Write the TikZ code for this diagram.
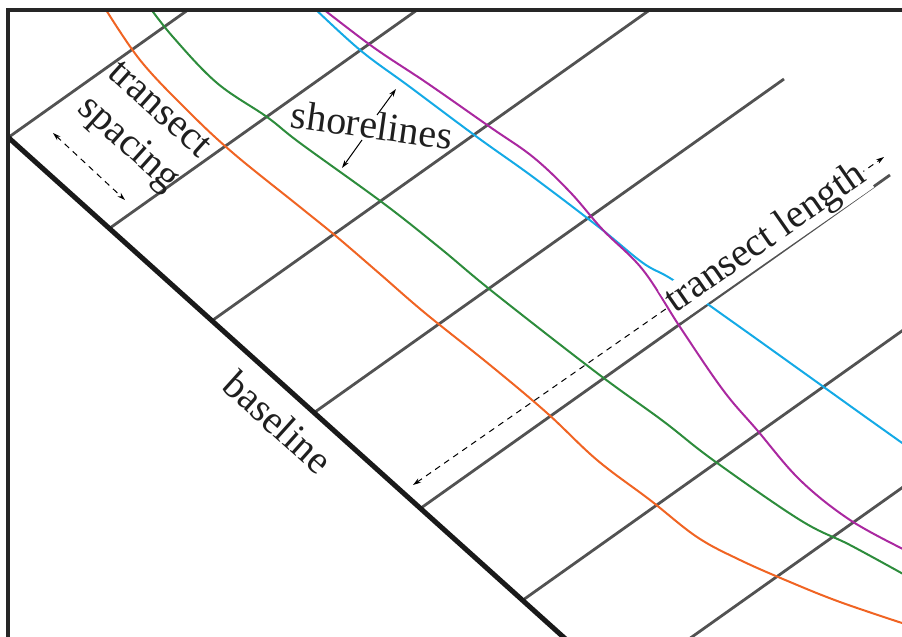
\documentclass[tikz,border=0pt]{standalone}
\usepackage{fontspec}
\setmainfont{Liberation Serif}
\usetikzlibrary{arrows.meta}

\definecolor{shoreO}{RGB}{240,100,35}
\definecolor{shoreG}{RGB}{45,140,60}
\definecolor{shoreB}{RGB}{20,170,230}
\definecolor{shoreM}{RGB}{170,40,160}

\begin{document}
\begin{tikzpicture}[x=1pt, y=-1pt,
  transect/.style={line width=2.8pt, draw=black!68},
  shoreline/.style={line width=2pt, smooth, tension=0.6},
  note/.style={font=\fontsize{40}{46}\selectfont, text=black!88, inner sep=1pt},
  measure/.style={line width=1pt, dash pattern=on 6pt off 5pt,
    {Stealth[length=8pt,width=5pt]}-{Stealth[length=8pt,width=5pt]}},
  pointer/.style={line width=1pt, -{Stealth[length=8pt,width=5pt]}}]
  \useasboundingbox (0,0) rectangle (902,637);

  \begin{scope}
    \clip (8,10) rectangle (902,637);
    % Transects
    \foreach \x/\y in {9/137, 110/228, 213/320, 315/412, 421/508, 523/600, 620/688}
      \draw[transect] (\x,\y) -- ++(469,-333);

    % Shorelines
    \draw[shoreline, draw=shoreO] plot coordinates {(103,5) (140,60) (187,110) (233,153)
      (300,207) (337,237) (380,274) (425,313) (490,365) (547,413) (597,460)
      (650,500) (697,537) (740,560) (790,582) (840,602) (905,624)};
    \draw[shoreline, draw=shoreG] plot coordinates {(148,5) (173,37) (217,83) (267,117)
      (300,143) (383,203) (440,248) (493,292) (597,373) (663,421)
      (713,460) (800,520) (850,545) (905,575)};
    \draw[shoreline, draw=shoreB] plot coordinates {(311,5) (360,50) (410,87) (477,137)
      (533,177) (600,228) (643,263) (673,280) (730,320) (800,370) (860,413) (905,445)};
    \draw[shoreline, draw=shoreM] plot coordinates {(318,5) (373,47) (427,83) (490,127)
      (533,157) (570,192) (603,230) (643,270) (680,327) (723,390) (757,430)
      (800,480) (850,520) (905,550)};

    % Baseline
    \draw[line width=5pt, black!90] (0,130) -- (580,652);
  \end{scope}

  % Frame
  \draw[line width=4pt, black!85] (8,637) -- (8,10) -- (902,10);

  % Labels
  \node[note, rotate=-42, align=center] (spacing) at (142,129) {transect\\spacing};
  \node[note, rotate=-8] (shore) at (372,125) {shorelines};
  \node[note, rotate=-42] (base) at (278,422) {baseline};

  % Spacing arrow
  \coordinate (sp1) at (53,133);
  \coordinate (sp2) at (125,200);
  \draw[measure] (sp1) -- (sp2);

  % Shoreline pointers
  \coordinate (sh1) at (377,115);
  \coordinate (sh1e) at (396,89);
  \coordinate (sh2) at (362,140);
  \coordinate (sh2e) at (342,168);
  \draw[pointer] (sh1) -- (sh1e);
  \draw[pointer] (sh2) -- (sh2e);

  % Length arrow
  \coordinate (len1) at (413,485);
  \coordinate (len2) at (884,157);
  \draw[measure] (len1) -- (len2) node[note, pos=0.75, sloped, fill=white] (length) {transect length};
\end{tikzpicture}
\end{document}
